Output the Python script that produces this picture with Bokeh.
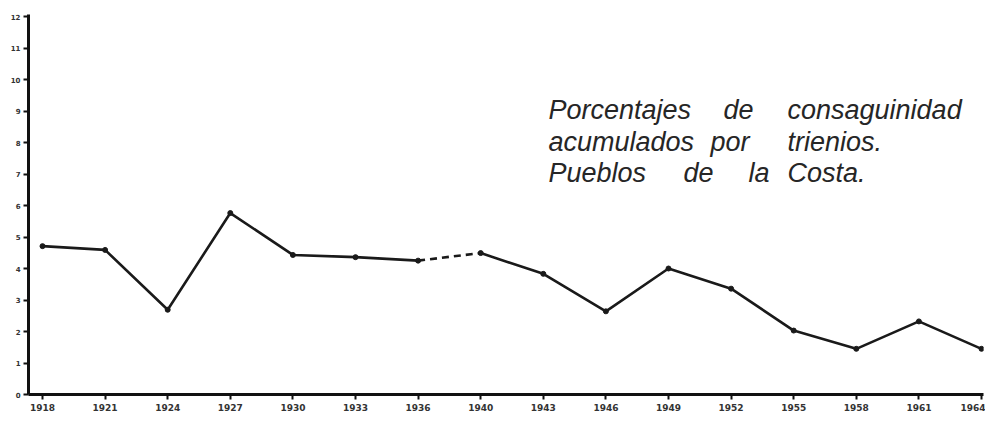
from bokeh.plotting import figure
from bokeh.models import Range1d, Label, FixedTicker, ColumnDataSource
from bokeh.embed import file_html
from bokeh.resources import INLINE

# ---- data ----
years = ["1918", "1921", "1924", "1927", "1930", "1933", "1936", "1940",
         "1943", "1946", "1949", "1952", "1955", "1958", "1961", "1964"]
values = [4.71, 4.59, 2.69, 5.76, 4.43, 4.36, 4.25, 4.49,
          3.83, 2.64, 4.00, 3.36, 2.03, 1.45, 2.32, 1.45]
y_ticks = list(range(13))
y_tick_labels = [str(v) for v in y_ticks]
title_lines = [
    ["Porcentajes", "de", "consaguinidad"],
    ["acumulados", "por", "trienios."],
    ["Pueblos", "de", "la", "Costa."],
]

# ---- layout helpers (pixel positions in the picture) ----
X0_PX, DX_PX = 42.0, 62.6     # x pixel of first category, spacing
Y0_PX, DY_PX = 394.0, 31.5    # y pixel of value 0, pixels per unit

def px_to_x(px):
    return (px - X0_PX) / DX_PX

def py_to_y(py):
    return (Y0_PX - py) / DY_PX

word_left_px = [[548, 723, 787], [548, 710, 787], [548, 683, 748, 787]]
line_base_px = [109, 141, 172]

idx = list(range(len(years)))

p = figure(width=985, height=425, output_backend="svg", toolbar_location=None,
           x_range=Range1d(px_to_x(28), px_to_x(983)),
           y_range=Range1d(0, py_to_y(14)),
           min_border_left=28, min_border_right=2,
           min_border_top=14, min_border_bottom=31)

p.outline_line_color = None
p.background_fill_color = "white"
p.border_fill_color = "white"
p.xgrid.visible = False
p.ygrid.visible = False

# axes
for ax in (p.xaxis, p.yaxis):
    ax.axis_line_width = 3
    ax.axis_line_color = "#111111"
    ax.major_tick_line_color = "#111111"
    ax.major_tick_line_width = 2
    ax.major_tick_in = 0
    ax.minor_tick_line_color = None
    ax.major_label_text_color = "#333333"
    ax.major_label_text_font = "DejaVu Sans"
    ax.major_label_text_font_style = "bold"

p.xaxis.ticker = FixedTicker(ticks=idx)
p.xaxis.major_label_overrides = {i: years[i] for i in idx}
p.xaxis.major_tick_out = 5
p.xaxis.major_label_standoff = 4
p.xaxis.major_label_text_font_size = "9px"

p.yaxis.ticker = FixedTicker(ticks=y_ticks)
p.yaxis.major_label_overrides = {t: lab for t, lab in zip(y_ticks, y_tick_labels)}
p.yaxis.major_tick_out = 5
p.yaxis.major_label_standoff = 3
p.yaxis.major_label_text_font_size = "7px"

# line: solid before 1936, dashed 1936-1940, solid after
solid_a = ColumnDataSource(dict(x=idx[:7], y=values[:7]))
dashed = ColumnDataSource(dict(x=idx[6:8], y=values[6:8]))
solid_b = ColumnDataSource(dict(x=idx[7:], y=values[7:]))

lc = "#1a1a1a"
p.line("x", "y", source=solid_a, line_width=2.6, line_color=lc)
p.line("x", "y", source=dashed, line_width=2.6, line_color=lc, line_dash="7 5")
p.line("x", "y", source=solid_b, line_width=2.6, line_color=lc)
p.scatter(idx, values, size=5, color=lc)

# title text, word by word
for words, lefts, base in zip(title_lines, word_left_px, line_base_px):
    for w, lx in zip(words, lefts):
        p.add_layout(Label(x=px_to_x(lx), y=py_to_y(base), text=w,
                           text_font="Liberation Sans", text_font_style="italic",
                           text_font_size="27px", text_color="#262626",
                           text_baseline="alphabetic", text_align="left"))

open("out.html", "w").write(file_html(p, INLINE))
